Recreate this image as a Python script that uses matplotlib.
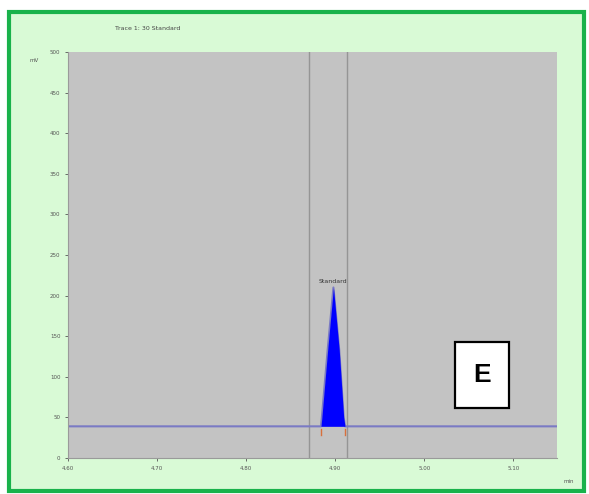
import matplotlib
matplotlib.use("Agg")
import matplotlib.pyplot as plt
from matplotlib.patches import Rectangle

# chromatogram trace (time in min, signal in mV)
peak_time = [4.600, 4.884, 4.885, 4.8915, 4.898, 4.9045, 4.9095, 4.911, 5.149]
peak_signal = [39, 39, 50, 133, 210, 133, 50, 39, 39]
baseline_level = 39
peak_start, peak_end = 4.884, 4.911
window_lines = [4.871, 4.913]
peak_name = "Standard"
x_ticks = [4.60, 4.70, 4.80, 4.90, 5.00, 5.10]
y_ticks = [0, 50, 100, 150, 200, 250, 300, 350, 400, 450, 500]

fig = plt.figure(figsize=(5.89, 4.94), dpi=100)
fig.patch.set_facecolor("white")

# green framed panel behind the plot
W, H = 589, 494
fig.patches.append(Rectangle((9 / W, (H - 491) / H), 575 / W, 479 / H,
                             transform=fig.transFigure, facecolor="#d9fad6",
                             edgecolor="#19b24b", linewidth=3, zorder=-1))

ax = fig.add_axes([68 / W, (H - 458) / H, 489 / W, 406 / H])
ax.set_zorder(1)
ax.set_facecolor("#c3c3c3")
ax.set_xlim(4.60, 5.149)
ax.set_ylim(0, 500)

for xv in window_lines:
    ax.axvline(xv, color="#959595", lw=1.0, zorder=1)

ax.fill_between(peak_time, baseline_level, peak_signal, color="#0000ff", lw=0, zorder=3)
ax.plot(peak_time, peak_signal, color="#7a7ac4", lw=1.5, zorder=2)

# integration start/end marks
for xv in (peak_start, peak_end):
    ax.plot([xv, xv], [36, 28], color="#d8703c", lw=1.0, zorder=4)

ax.text(peak_time[4], max(peak_signal) + 4, peak_name, fontsize=4.5,
        color="#333333", ha="center", va="bottom")

ax.set_xticks(x_ticks)
ax.set_xticklabels(["%.2f" % v for v in x_ticks])
ax.set_yticks(y_ticks)
ax.tick_params(labelsize=4, colors="#555555", length=2, width=0.6)
for side in ("top", "right"):
    ax.spines[side].set_visible(False)
for side in ("left", "bottom"):
    ax.spines[side].set_color("#9a9a9a")

fig.text(115 / W, 1 - 29 / H, "Trace 1: 30 Standard", fontsize=4.5, color="#444444",
         va="center")
fig.text(30 / W, 1 - 61 / H, "mV", fontsize=4, color="#555555", va="center")
fig.text(563 / W, 1 - 481 / H, "min", fontsize=4, color="#555555", va="center")

# panel label box
fig.patches.append(Rectangle((455 / W, (H - 408) / H), 54 / W, 66 / H,
                             transform=fig.transFigure, facecolor="white",
                             edgecolor="black", linewidth=1.6, zorder=5))
fig.text(482 / W, 1 - 375 / H, "E", fontsize=19, fontweight="bold",
         family="Liberation Sans", ha="center", va="center", zorder=6)

fig.savefig("out.png", dpi=100)
